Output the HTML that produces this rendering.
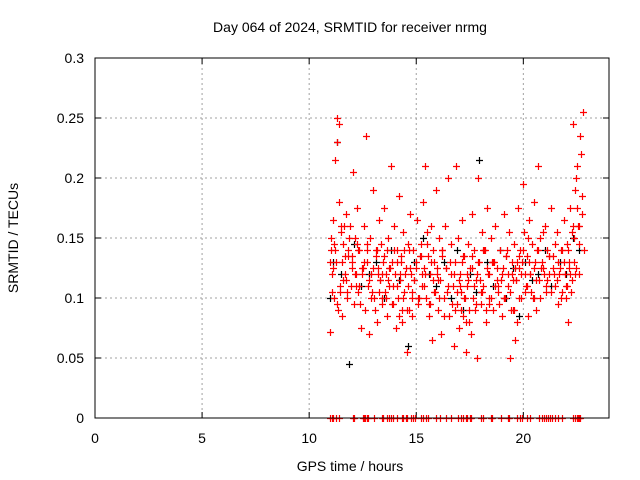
<!DOCTYPE html>
<html><head><meta charset="utf-8"><style>
body{margin:0;background:#fff;}
svg{display:block;font-family:"Liberation Sans",sans-serif;}
</style></head><body>
<svg id="chart" width="640" height="480" viewBox="0 0 640 480">
<text x="350" y="32" font-size="14" text-anchor="middle">Day 064 of 2024, SRMTID for receiver nrmg</text>
<text x="350" y="471" font-size="14" text-anchor="middle">GPS time / hours</text>
<text transform="translate(18,238) rotate(-90)" font-size="14" text-anchor="middle">SRMTID / TECUs</text>
<g id="grid"></g>
<g id="ticks"></g>
<g id="black"></g>
<g id="red"></g>
<rect x="95" y="58" width="514" height="360" fill="none" stroke="#000" stroke-width="1"/>
</svg>
<script>
const xTicks=[0,5,10,15,20];
const yTicks=[0,0.05,0.1,0.15,0.2,0.25,0.3];
const yTickLabels=["0","0.05","0.1","0.15","0.2","0.25","0.3"];
const redTimes=[10.95,11.0,11.05,11.1,11.15,11.2,11.25,11.3,11.35,11.4,11.45,11.5,11.55,11.6,11.65,11.7,11.75,11.8,11.9,11.95,12.0,12.05,12.1,12.15,12.2,12.25,12.3,12.35,12.4,12.45,12.55,12.6,12.65,12.7,12.75,12.8,12.85,12.9,13.0,13.05,13.1,13.15,13.2,13.25,13.3,13.35,13.4,13.45,13.5,13.55,13.6,13.65,13.7,13.75,13.8,13.85,13.9,13.95,14.0,14.05,14.1,14.15,14.2,14.25,14.3,14.35,14.4,14.45,14.5,14.55,14.6,14.65,14.7,14.75,14.8,14.85,14.9,15.0,15.05,15.1,15.2,15.25,15.3,15.35,15.4,15.45,15.5,15.55,15.6,15.65,15.7,15.75,15.8,15.85,15.9,15.95,16.0,16.05,16.1,16.15,16.2,16.3,16.35,16.4,16.5,16.55,16.6,16.7,16.75,16.8,16.85,16.9,16.95,17.0,17.05,17.1,17.15,17.2,17.25,17.3,17.35,17.4,17.45,17.5,17.55,17.6,17.65,17.7,17.8,17.85,17.9,17.95,18.0,18.05,18.1,18.2,18.25,18.3,18.35,18.4,18.5,18.55,18.6,18.7,18.75,18.8,18.9,19.0,19.05,19.1,19.15,19.2,19.3,19.35,19.4,19.45,19.5,19.55,19.6,19.65,19.7,19.75,19.8,19.85,19.9,20.0,20.05,20.1,20.15,20.2,20.25,20.3,20.4,20.45,20.5,20.55,20.6,20.7,20.75,20.8,20.9,21.0,21.05,21.1,21.2,21.3,21.4,21.5,21.55,21.6,21.7,21.75,21.8,21.9,21.95,22.0,22.05,22.1,22.15,22.2,22.25,22.3,22.35,22.4,22.45,22.5,22.55,22.6,22.65,22.7,22.75,22.8,22.85,
11.02,11.12,11.22,11.32,11.42,11.52,11.62,11.72,11.82,12.02,12.12,12.22,12.32,12.52,12.72,12.92,13.12,13.22,13.32,13.42,13.62,13.72,13.92,14.12,14.22,14.32,14.42,14.62,14.72,14.82,15.12,15.22,15.42,15.62,15.82,16.02,16.22,16.42,16.62,16.82,17.02,17.12,17.22,17.32,17.42,17.62,17.72,17.82,18.02,18.12,18.32,18.42,18.62,18.82,19.02,19.12,19.22,19.42,19.52,19.62,19.72,19.82,19.92,20.12,20.22,20.32,20.52,20.62,20.82,20.92,21.12,21.22,21.42,21.62,21.82,22.02,22.12,22.22,22.32,22.42,22.52,22.62,22.72,
10.98,11.08,11.18,11.28,11.38,11.48,11.58,11.68,11.78,11.88,11.98,12.18,12.28,12.38,12.48,12.58,12.68,12.78,12.88,12.98,13.08,13.18,13.28,13.38,13.48,13.58,13.68,13.78,13.88,13.98,14.08,14.18,14.28,14.38,14.48,14.58,14.68,14.78,14.88,14.98,15.08,15.18,15.28,15.38,15.48,15.58,15.68,15.78,15.88,15.98,16.08,16.18,16.28,16.38,16.48,16.58,16.68,16.78,16.88,16.98,17.08,17.18,17.28,17.38,17.48,17.58,17.68,17.78,17.88,17.98,18.08,18.18,18.28,18.38,18.48,18.58,18.68,18.78,18.88,18.98,19.08,19.18,19.28,19.38,19.48,19.58,19.68,19.78,19.88,19.98,20.08,20.18,20.28,20.38,20.48,20.58,20.68,20.78,20.88,20.98,21.08,21.18,21.28,21.38,21.48,21.58,21.68,21.78,21.88,21.98,22.08,22.18,22.28,22.38,22.48,22.58,22.68,22.78];
const redValues=[.072,.14,.12,.165,.10,.215,.13,.25,.09,.18,.11,.155,.085,.145,.12,.17,.10,.135,.16,.11,.13,.205,.095,.15,.12,.175,.105,.14,.075,.125,.16,.09,.235,.13,.11,.07,.15,.12,.19,.10,.14,.08,.125,.165,.115,.145,.095,.13,.175,.105,.12,.085,.15,.11,.21,.13,.095,.16,.12,.075,.14,.10,.185,.115,.135,.08,.155,.105,.125,.055,.145,.09,.17,.12,.10,.14,.115,.13,.165,.095,.145,.11,.18,.125,.21,.10,.155,.135,.085,.12,.16,.065,.14,.105,.19,.125,.09,.15,.115,.07,.135,.10,.16,.125,.20,.085,.145,.11,.06,.13,.21,.095,.15,.075,.12,.105,.165,.085,.135,.055,.11,.145,.09,.125,.07,.17,.10,.14,.115,.05,.20,.13,.095,.155,.11,.14,.08,.175,.12,.10,.15,.13,.09,.16,.115,.105,.14,.085,.125,.17,.10,.135,.11,.155,.05,.12,.09,.145,.065,.115,.13,.175,.10,.14,.12,.195,.155,.105,.135,.085,.165,.12,.145,.10,.18,.13,.09,.21,.115,.15,.125,.16,.105,.14,.12,.175,.135,.11,.155,.095,.125,.14,.105,.165,.12,.10,.145,.08,.13,.175,.115,.245,.15,.19,.125,.21,.16,.12,.235,.22,.17,.255,.14,
.15,.125,.14,.23,.105,.13,.16,.115,.14,.135,.12,.145,.11,.125,.14,.105,.135,.12,.115,.10,.14,.125,.11,.13,.12,.09,.14,.11,.125,.085,.10,.135,.12,.095,.13,.115,.14,.105,.12,.09,.11,.13,.10,.08,.115,.135,.09,.12,.105,.14,.125,.095,.13,.11,.12,.10,.14,.09,.115,.125,.08,.135,.13,.11,.15,.12,.10,.14,.125,.155,.115,.135,.12,.13,.14,.11,.125,.105,.16,.12,.175,.145,.185,
.13,.105,.145,.095,.245,.16,.115,.135,.105,.15,.125,.11,.14,.095,.12,.13,.145,.115,.1,.125,.09,.14,.105,.12,.135,.1,.115,.125,.095,.14,.11,.085,.13,.1,.12,.09,.14,.105,.115,.125,.1,.135,.12,.11,.145,.095,.13,.115,.105,.12,.1,.14,.085,.125,.11,.13,.095,.12,.105,.115,.09,.135,.1,.12,.08,.125,.11,.095,.13,.115,.105,.14,.09,.12,.1,.13,.11,.125,.095,.115,.1,.135,.12,.105,.13,.09,.115,.125,.1,.14,.12,.11,.13,.105,.125,.115,.14,.1,.13,.12,.11,.135,.105,.125,.145,.115,.12,.1,.13,.11,.14,.12,.155,.13,.2,.16];
const blackTimes=[10.95,11.1,11.3,11.5,11.85,12.1,12.4,12.8,13.1,13.5,13.8,14.2,14.6,14.9,15.3,15.6,15.9,16.3,16.6,16.9,17.2,17.5,17.8,17.95,18.3,18.6,18.9,19.2,19.5,19.8,20.1,20.4,20.7,21.0,21.3,21.7,22.0,22.3,22.6];
const blackValues=[.10,.13,.23,.12,.045,.145,.11,.12,.13,.10,.14,.115,.06,.13,.15,.12,.11,.13,.10,.14,.09,.12,.105,.215,.13,.11,.14,.10,.125,.085,.13,.115,.12,.14,.11,.13,.12,.15,.14];
const zeroTimes=[10.95,11.05,11.1,11.25,11.4,12.05,12.1,12.5,12.55,12.6,12.7,12.75,13.05,13.4,13.45,13.65,13.75,13.8,13.9,14.1,14.35,14.4,14.5,14.55,14.75,14.85,14.95,15.2,15.3,15.45,15.55,15.9,16.1,16.4,16.6,16.95,17.1,17.2,17.3,17.35,17.5,17.55,18.0,18.1,18.5,18.55,18.95,19.3,19.35,19.7,19.85,19.95,20.15,20.3,20.75,20.85,20.95,21.05,21.15,21.25,21.35,21.5,21.6,21.8,22.3,22.4,22.5,22.55,22.6,22.65];
const X0=95,X1=609,Y0=418,Y1=58;
function xs(t){return X0+(X1-X0)*t/24;}
function ys(v){return Y0-(Y0-Y1)*v/0.3;}
const NS="http://www.w3.org/2000/svg";
const grid=document.getElementById('grid'),ticks=document.getElementById('ticks');
xTicks.forEach(t=>{
 const x=xs(t);
 if(t>0){const l=document.createElementNS(NS,'line');
 l.setAttribute('x1',x);l.setAttribute('x2',x);l.setAttribute('y1',Y1);l.setAttribute('y2',Y0);
 l.setAttribute('stroke','#a0a0a0');l.setAttribute('stroke-dasharray','2,3');
 
 grid.appendChild(l);}
 const tk=document.createElementNS(NS,'path');
 tk.setAttribute('d',`M${x},${Y0}v-6M${x},${Y1}v6`);tk.setAttribute('stroke','#000');
 
 ticks.appendChild(tk);
 const tx=document.createElementNS(NS,'text');
 tx.setAttribute('x',x);tx.setAttribute('y',443);tx.setAttribute('font-size','14');tx.setAttribute('text-anchor','middle');
 tx.textContent=String(t);
 
 ticks.appendChild(tx);
});
yTicks.forEach((v,i)=>{
 const y=ys(v);
 if(v>0&&v<0.3){const l=document.createElementNS(NS,'line');
 l.setAttribute('x1',X0);l.setAttribute('x2',X1);l.setAttribute('y1',y);l.setAttribute('y2',y);
 l.setAttribute('stroke','#a0a0a0');l.setAttribute('stroke-dasharray','2,3');
 
 grid.appendChild(l);}
 const tk=document.createElementNS(NS,'path');
 tk.setAttribute('d',`M${X0},${y}h6M${X1},${y}h-6`);tk.setAttribute('stroke','#000');
 
 ticks.appendChild(tk);
 const tx=document.createElementNS(NS,'text');
 tx.setAttribute('x',84);tx.setAttribute('y',y+5);tx.setAttribute('font-size','14');tx.setAttribute('text-anchor','end');
 tx.textContent=yTickLabels[i];
 
 ticks.appendChild(tx);
});
function plus(g,t,v,c,name){
 const x=Math.round(xs(t))+0.5,y=Math.round(ys(v))+0.5;
 const p=document.createElementNS(NS,'path');
 p.setAttribute('d',`M${x-3.5},${y}h7M${x},${y-3.5}v7`);
 p.setAttribute('stroke',c);p.setAttribute('stroke-width','1.2');
 
 
 g.appendChild(p);
}
const bg=document.getElementById('black'),rg=document.getElementById('red');
blackTimes.forEach((t,i)=>plus(bg,t,blackValues[i],'#000','black-point'));
redTimes.forEach((t,i)=>plus(rg,t,redValues[i],'#f00','red-point'));
zeroTimes.forEach(t=>plus(rg,t,0,'#f00','zero-point'));
</script>
</body></html>
